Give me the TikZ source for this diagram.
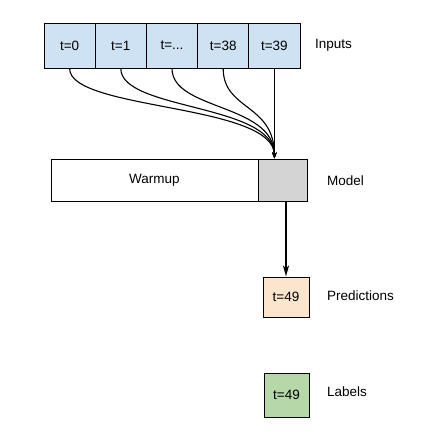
\documentclass[tikz,border=0pt]{standalone}
\usepackage{fontspec}
\setmainfont{Liberation Sans}
\usetikzlibrary{arrows.meta}
\definecolor{inblue}{RGB}{207,226,243}
\definecolor{predorange}{RGB}{252,229,205}
\definecolor{labgreen}{RGB}{182,215,168}
\definecolor{curgray}{RGB}{212,212,212}
\begin{document}
\begin{tikzpicture}[
  box/.style={draw,line width=1pt,minimum height=45pt,
    font=\fontsize{13.5}{16}\selectfont},
  tint/.style={preaction={fill=#1}},
  inbox/.style={box,tint=inblue,minimum width=51.2pt},
  side/.style={anchor=west,inner sep=0pt,font=\fontsize{13.5}{16}\selectfont},
  wire/.style={line width=1.1pt,-{Stealth[length=6pt,width=4.5pt]}}]
  \useasboundingbox (0,0) rectangle (425pt,-440pt);
% inputs
  \node[inbox] (i0) at (69.6pt,-45.5pt) {t=0};
  \node[inbox] (i1) at (120.8pt,-45.5pt) {t=1};
  \node[inbox] (i2) at (172.0pt,-45.5pt) {t=...};
  \node[inbox] (i3) at (223.2pt,-45.5pt) {t=38};
  \node[inbox] (i4) at (274.4pt,-45.5pt) {t=39};
  \node[side] (inputs) at (315pt,-45.5pt) {Inputs};
% model
  \node[box,minimum width=207pt,minimum height=42pt] (warm) at (154.5pt,-180pt) {Warmup};
  \node[box,tint=curgray,minimum width=49pt,minimum height=42pt] (cur) at (282.5pt,-180pt) {};
  \node[side] (model) at (327pt,-181pt) {Model};
  \coordinate (tip) at (274.4pt,-158.5pt);
% outputs
  \node[box,tint=predorange,minimum width=46pt,minimum height=40pt] (pred) at (286pt,-297pt) {t=49};
  \node[side] (predictions) at (327pt,-296pt) {Predictions};
  \node[box,tint=labgreen,minimum width=45pt,minimum height=44pt] (lab) at (286.5pt,-395pt) {t=49};
  \node[side] (labels) at (327pt,-392pt) {Labels};
% connectors
  \draw[wire] (i0.south) .. controls +(0,-42pt) and +(0,55pt) .. (tip);
  \draw[wire] (i1.south) .. controls +(0,-42pt) and +(0,55pt) .. (tip);
  \draw[wire] (i2.south) .. controls +(0,-42pt) and +(0,55pt) .. (tip);
  \draw[wire] (i3.south) .. controls +(0,-42pt) and +(0,55pt) .. (tip);
  \draw[wire,line width=1.5pt] (i4.south) -- (tip);
  \draw[line width=1.8pt,-{Stealth[length=11pt,width=6pt,inset=3pt]}]
    (pred.north |- cur.south) -- (pred.north);
\end{tikzpicture}
\end{document}
